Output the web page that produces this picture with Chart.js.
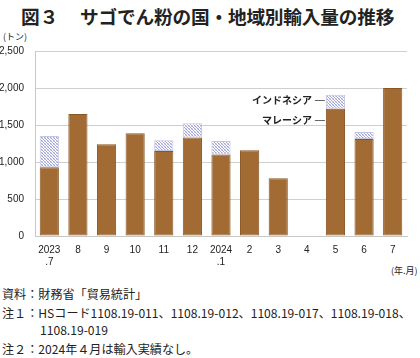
<!DOCTYPE html>
<html><head><meta charset="utf-8">
<script src="https://cdn.jsdelivr.net/npm/chart.js@4/dist/chart.umd.min.js"></script>
<style>
html,body{margin:0;padding:0;background:#fff;}
body{width:420px;height:358px;position:relative;overflow:hidden;font-family:"Noto Sans CJK JP","Noto Sans",sans-serif;color:#222;}
.t{position:absolute;white-space:nowrap;}
.n{font-size:12.1px;}
#wrap{position:absolute;left:0;top:0;width:420px;height:280px;}
</style></head><body>
<div class="t" style="left:21px;top:2px;font-size:18.7px;font-weight:bold;">図３</div>
<div class="t" style="left:80px;top:2px;font-size:18.7px;font-weight:bold;letter-spacing:-0.2px;">サゴでん粉の国・地域別輸入量の推移</div>
<div class="t" style="left:3px;top:30px;font-size:9px;">(トン)</div>
<div class="t" style="left:391px;top:264px;font-size:9px;">(年.月)</div>
<div class="t n" style="left:2px;top:285px;">資料：財務省「貿易統計」</div>
<div class="t n" style="left:2px;top:304px;">注１：HSコード1108.19-011、1108.19-012、1108.19-017、1108.19-018、</div>
<div class="t n" style="left:40px;top:321px;">1108.19-019</div>
<div class="t n" style="left:2px;top:340px;">注２：2024年４月は輸入実績なし。</div>
<div id="wrap"><canvas id="c" width="420" height="280"></canvas></div>
<script>
const categories = [['2023','.7'],'8','9','10','11','12',['2024','.1'],'2','3','4','5','6','7'];
const malaysia  = [930,1650,1240,1390,1150,1330,1100,1160,780,0,1720,1310,2000];
const indonesia = [420,0,0,0,145,195,185,0,0,0,190,95,0];
const yTicks = [0,500,1000,1500,2000,2500];
const seriesNames = ['マレーシア','インドネシア'];
const annotations = [
  {text:'インドネシア', index:10, value:1840},
  {text:'マレーシア', index:10, value:1570}
];

function hatch(){
  const p=document.createElement('canvas');p.width=3;p.height=3;
  const g=p.getContext('2d');
  g.fillStyle='#ffffff';g.fillRect(0,0,3,3);
  g.fillStyle='#a4a6d6';
  g.fillRect(0,0,1,1);g.fillRect(1,1,1,1);g.fillRect(2,2,1,1);
  g.fillStyle='#d4d5ee';
  g.fillRect(2,0,1,1);g.fillRect(0,2,1,1);
  return g.createPattern(p,'repeat');
}
const ctx=document.getElementById('c').getContext('2d');
const labelPlugin={
  id:'lbl',
  afterDatasetsDraw(chart){
    const c=chart.ctx;
    const meta=chart.getDatasetMeta(0);
    const ys=chart.scales.y;
    c.save();
    c.font='bold 10px "Noto Sans CJK JP"';
    c.fillStyle='#222';
    c.textAlign='right';c.textBaseline='middle';
    annotations.forEach(a=>{
      const bar=meta.data[a.index];
      const left=bar.x-bar.width/2;
      const y=ys.getPixelForValue(a.value);
      c.strokeStyle='#666';c.lineWidth=1;
      c.beginPath();c.moveTo(left-11,Math.round(y)+0.5);c.lineTo(left-1,Math.round(y)+0.5);c.stroke();
      c.fillText(a.text,left-14,y);
    });
    c.restore();
  }
};
new Chart(ctx,{
  type:'bar',
  data:{labels:categories,datasets:[
    {label:seriesNames[0],data:malaysia,backgroundColor:'#a16b33',borderColor:'#8a5624',borderWidth:1,borderSkipped:false,barPercentage:0.67,categoryPercentage:1},
    {label:seriesNames[1],data:indonesia,backgroundColor:hatch(),borderColor:'#c4c5de',borderWidth:1,borderSkipped:false,barPercentage:0.67,categoryPercentage:1}
  ]},
  options:{
    responsive:false,animation:false,
    layout:{padding:{left:0,right:13,top:51,bottom:0}},
    plugins:{legend:{display:false},tooltip:{enabled:false}},
    scales:{
      x:{stacked:true,
        grid:{display:false,drawTicks:false},
        border:{color:'#c8c8c8'},
        ticks:{color:'#222',font:{family:'"Liberation Sans"',size:10},padding:8,maxRotation:0,autoSkip:false},
        afterFit(s){s.height=44;}
      },
      y:{stacked:true,min:0,max:2500,
        afterBuildTicks(s){s.ticks=yTicks.map(v=>({value:v}));},
        grid:{color:'#cfcfcf',drawTicks:false},
        border:{color:'#c8c8c8'},
        ticks:{color:'#222',font:{family:'"Liberation Sans"',size:10},padding:11,
          callback:v=>v.toLocaleString('en-US')},
        afterFit(s){s.width=35;}
      }
    }
  },
  plugins:[labelPlugin]
});
</script>
</body></html>
